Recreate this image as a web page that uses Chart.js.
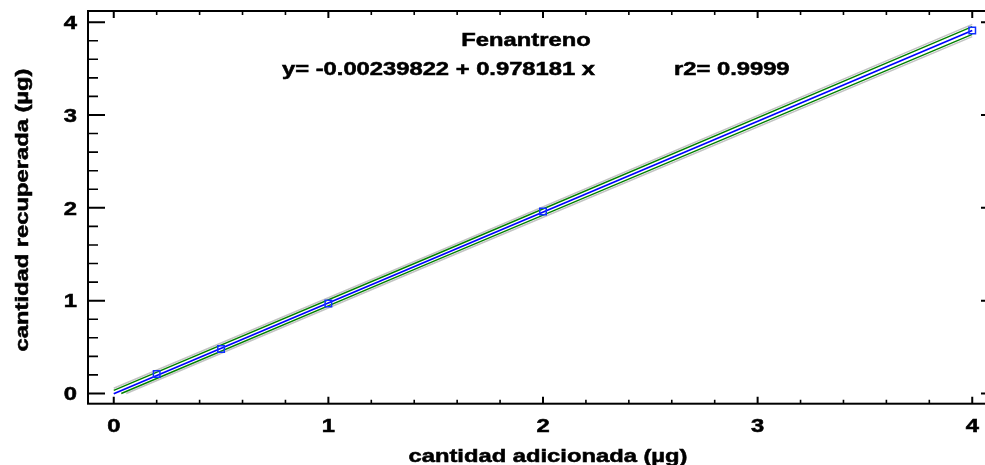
<!DOCTYPE html>
<html>
<head>
<meta charset="utf-8">
<script src="https://cdn.jsdelivr.net/npm/chart.js@4.4.1/dist/chart.umd.min.js"></script>
<style>
  html, body { margin: 0; padding: 0; background: #fff; overflow: hidden; }
  #wrap { position: relative; width: 1010px; height: 465px; }
</style>
</head>
<body>
<div id="wrap"><canvas id="c"></canvas></div>
<script>
// Texts
const titleText = 'Fenantreno';
const equationText = 'y= -0.00239822 + 0.978181 x';
const r2Text = 'r2= 0.9999';
const xTitle = 'cantidad adicionada (µg)';
const yTitle = 'cantidad recuperada (µg)';

// Tick labels for the integer (major) ticks
const xTickLabels = ['0', '1', '2', '3', '4'];
const yTickLabels = ['0', '1', '2', '3', '4'];

// Measured points: added vs. recovered amount
const addedX = [0.2, 0.5, 1, 2, 4];
const recoveredY = [0.21, 0.48, 0.97, 1.96, 3.91];

// Fitted line y = -0.00239822 + 0.978181 x
const fitX = [0, 4];
const fitY = [-0.0024, 3.9103];

// Confidence limits for the mean (green)
const confUpperX = [0, 1.5, 4];
const confUpperY = [0.034, 1.497, 3.952];
const confLowerX = [0.035, 1.5, 4];
const confLowerY = [0, 1.433, 3.868];

// Prediction limits (grey)
const predUpperX = [0, 1.5, 4];
const predUpperY = [0.057, 1.519, 3.976];
const predLowerX = [0.058, 1.5, 4];
const predLowerY = [0, 1.411, 3.844];

const pairs = (xs, ys) => xs.map((x, i) => ({ x: x, y: ys[i] }));

const FONT = 'bold 19px "Liberation Sans", Arial, sans-serif';
const SX = 1.25; // horizontal stretch of the lettering

function stretchedText(ctx, text, x, y, align) {
  ctx.save();
  ctx.translate(x, y);
  ctx.scale(SX, 1);
  ctx.textAlign = align;
  ctx.textBaseline = 'alphabetic';
  ctx.lineWidth = 0.55;
  ctx.strokeStyle = ctx.fillStyle;
  ctx.fillText(text, 0, 0);
  ctx.strokeText(text, 0, 0);
  ctx.restore();
}

const isMajor = v => Math.abs(v - Math.round(v)) < 1e-6;

// Frame, inward tick marks and all lettering
const framePlugin = {
  id: 'frame',
  beforeDatasetsDraw(chart) {
    const { ctx, chartArea: a, scales } = chart;
    const xs = scales.x, ys = scales.y;
    ctx.save();
    ctx.strokeStyle = '#000';
    ctx.lineCap = 'butt';

    // ticks on x (bottom and top)
    xs.ticks.forEach(t => {
      const px = xs.getPixelForValue(t.value);
      const major = isMajor(t.value);
      const len = major ? 7 : 4;
      ctx.lineWidth = major ? 2 : 1.6;
      ctx.beginPath();
      ctx.moveTo(px, a.bottom); ctx.lineTo(px, a.bottom - len);
      ctx.moveTo(px, a.top); ctx.lineTo(px, a.top + len);
      ctx.stroke();
    });
    // ticks on y (left and right)
    ys.ticks.forEach(t => {
      const py = ys.getPixelForValue(t.value);
      const major = isMajor(t.value);
      const len = major ? 17 : 10;
      ctx.lineWidth = major ? 2 : 1.6;
      ctx.beginPath();
      ctx.moveTo(a.left, py); ctx.lineTo(a.left + len, py);
      ctx.moveTo(a.right, py); ctx.lineTo(a.right - len, py);
      ctx.stroke();
    });

    // frame
    ctx.lineWidth = 2;
    ctx.strokeRect(a.left, a.top, a.right - a.left, a.bottom - a.top);
    ctx.restore();
  },
  afterDraw(chart) {
    const { ctx, chartArea: a, scales } = chart;
    const xs = scales.x, ys = scales.y;
    ctx.save();
    ctx.fillStyle = '#000';
    ctx.font = FONT;

    xs.ticks.forEach(t => {
      if (!isMajor(t.value)) return;
      const lbl = xTickLabels[Math.round(t.value)];
      if (lbl === undefined) return;
      stretchedText(ctx, lbl, xs.getPixelForValue(t.value), a.bottom + 28.5, 'center');
    });
    ys.ticks.forEach(t => {
      if (!isMajor(t.value)) return;
      const lbl = yTickLabels[Math.round(t.value)];
      if (lbl === undefined) return;
      stretchedText(ctx, lbl, a.left - 11, ys.getPixelForValue(t.value) + 6.8, 'right');
    });

    // axis titles
    stretchedText(ctx, xTitle, 548, 461.5, 'center');
    ctx.save();
    ctx.translate(27.5, 210);
    ctx.rotate(-Math.PI / 2);
    stretchedText(ctx, yTitle, 0, 0, 'center');
    ctx.restore();

    // heading and fit equation inside the plot
    stretchedText(ctx, titleText, 526, 45.7, 'center');
    stretchedText(ctx, equationText, 282, 75, 'left');
    stretchedText(ctx, r2Text, 674, 75, 'left');
    ctx.restore();
  }
};

const lineDs = (label, data, color, width) => ({
  label: label,
  data: data,
  showLine: true,
  borderColor: color,
  backgroundColor: color,
  borderWidth: width,
  pointRadius: 0,
  pointHoverRadius: 0,
  fill: false,
  tension: 0
});

new Chart(document.getElementById('c'), {
  type: 'scatter',
  data: {
    datasets: [
      Object.assign(lineDs('pred-upper', pairs(predUpperX, predUpperY), '#c4c4c4', 1.6), { order: 6 }),
      Object.assign(lineDs('pred-lower', pairs(predLowerX, predLowerY), '#c4c4c4', 1.6), { order: 5 }),
      Object.assign(lineDs('conf-upper', pairs(confUpperX, confUpperY), '#008000', 1.4), { order: 4 }),
      Object.assign(lineDs('conf-lower', pairs(confLowerX, confLowerY), '#008000', 1.4), { order: 3 }),
      Object.assign(lineDs('fit', pairs(fitX, fitY), '#0000ff', 1.8), { order: 2 }),
      {
        label: 'data',
        data: pairs(addedX, recoveredY),
        showLine: false,
        pointStyle: 'rect',
        pointRadius: 4.6,
        pointHoverRadius: 4.6,
        borderColor: '#1030ff',
        backgroundColor: 'rgba(0,0,0,0)',
        pointBorderWidth: 1.5,
        order: 1
      }
    ]
  },
  options: {
    responsive: true,
    maintainAspectRatio: false,
    animation: false,
    events: [],
    layout: { padding: { top: 11, right: 12, left: 0, bottom: 0 } },
    plugins: { legend: { display: false }, tooltip: { enabled: false }, title: { display: false } },
    scales: {
      x: {
        type: 'linear',
        min: -0.12,
        max: 4.12,
        grid: { display: false },
        border: { display: false },
        ticks: { display: false, stepSize: 0.2, includeBounds: false },
        afterFit(scale) { scale.height = 61.3; }
      },
      y: {
        type: 'linear',
        min: -0.11,
        max: 4.12,
        grid: { display: false },
        border: { display: false },
        ticks: { display: false, stepSize: 0.2, includeBounds: false },
        afterFit(scale) { scale.width = 88; }
      }
    }
  },
  plugins: [framePlugin]
});
</script>
</body>
</html>
